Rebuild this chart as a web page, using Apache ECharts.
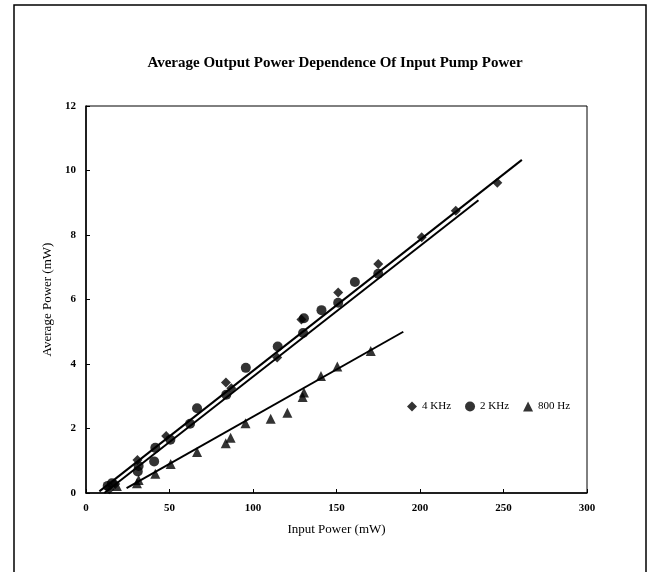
<!DOCTYPE html>
<html>
<head>
<meta charset="utf-8">
<script src="https://cdn.jsdelivr.net/npm/echarts@6/dist/echarts.min.js"></script>
<style>
  html, body { margin: 0; padding: 0; background: #fff; }
  #chart { width: 652px; height: 572px; }
</style>
</head>
<body>
<div id="chart"></div>
<script>
// 数据 (input power mW, average power mW)
var khz4 = [[14, 0.12], [17.5, 0.28], [30.8, 1.02], [48, 1.77], [83.8, 3.43], [87, 3.25],
  [114.5, 4.2], [129, 5.38], [151, 6.22], [175, 7.1], [201, 7.93], [221.4, 8.75], [246.3, 9.62]];
var khz2 = [[13, 0.22], [15.5, 0.3], [31, 0.67], [31.5, 0.84], [40.8, 0.98], [41.5, 1.4],
  [50.5, 1.65], [62.3, 2.15], [66.5, 2.63], [84, 3.05], [95.7, 3.88], [114.8, 4.54],
  [130, 4.96], [130.5, 5.42], [141, 5.67], [151, 5.9], [161, 6.54], [175, 6.8]];
var hz800 = [[18.5, 0.22], [30.5, 0.3], [31.5, 0.4], [41.5, 0.6], [50.7, 0.9], [66.5, 1.27],
  [83.7, 1.54], [86.6, 1.71], [95.5, 2.16], [110.6, 2.3], [120.6, 2.49], [129.7, 2.98],
  [130.5, 3.12], [140.7, 3.63], [150.5, 3.92], [170.5, 4.4]];
// 拟合直线端点
var fit4 = [[8, 0.05], [261, 10.33]];
var fit2 = [[11, 0], [235, 9.08]];
var fit800 = [[24.3, 0.15], [190, 5.0]];
var legendNames = ['4 KHz', '2 KHz', '800 Hz'];

var chart = echarts.init(document.getElementById('chart'));
var serif = '"Liberation Serif", "DejaVu Serif", serif';

function fitLine(data) {
  return {
    type: 'line', data: data, symbol: 'none', silent: true,
    lineStyle: { color: '#000', width: 2 }, z: 1
  };
}

var option = {
  backgroundColor: '#fff',
  animation: false,
  title: {
    text: 'Average Output Power Dependence Of Input Pump Power',
    left: 330, top: 51, textAlign: 'center',
    textStyle: { fontFamily: serif, fontSize: 15, fontWeight: 'bold', color: '#000' }
  },
  legend: {
    data: legendNames,
    left: 402, top: 396,
    itemWidth: 10, itemHeight: 10, itemGap: 14,
    textStyle: { fontFamily: serif, fontSize: 11, color: '#000' }
  },
  grid: {
    left: 86, right: 65, top: 106, bottom: 79,
    show: true, borderColor: '#000', borderWidth: 1
  },
  xAxis: {
    type: 'value', min: 0, max: 300, interval: 50,
    name: 'Input Power (mW)', nameLocation: 'middle', nameGap: 30,
    nameTextStyle: { fontFamily: serif, fontSize: 13, color: '#000' },
    axisLine: { lineStyle: { color: '#000', width: 1.5 } },
    axisTick: { inside: true, length: 4, lineStyle: { color: '#000' } },
    axisLabel: { fontFamily: serif, fontSize: 11, fontWeight: 'bold', color: '#000', margin: 10 },
    splitLine: { show: false }
  },
  yAxis: {
    type: 'value', min: 0, max: 12, interval: 2,
    name: 'Average Power (mW)', nameLocation: 'middle', nameGap: 30,
    nameTextStyle: { fontFamily: serif, fontSize: 13, color: '#000' },
    axisLine: { lineStyle: { color: '#000', width: 1.5 } },
    axisTick: { inside: true, length: 4, lineStyle: { color: '#000' } },
    axisLabel: { fontFamily: serif, fontSize: 11, fontWeight: 'bold', color: '#000', margin: 10 },
    splitLine: { show: false }
  },
  graphic: [{
    type: 'polyline',
    shape: { points: [[14, 572], [14, 5], [646, 5], [646, 572]] },
    style: { stroke: '#000', lineWidth: 1.5, fill: null }
  }],
  series: [
    fitLine(fit4),
    fitLine(fit2),
    fitLine(fit800),
    { name: '4 KHz', type: 'scatter', data: khz4, symbol: 'diamond', symbolSize: 10,
      itemStyle: { color: '#000' }, z: 3 },
    { name: '2 KHz', type: 'scatter', data: khz2, symbol: 'circle', symbolSize: 10,
      itemStyle: { color: '#000' }, z: 3 },
    { name: '800 Hz', type: 'scatter', data: hz800, symbol: 'triangle', symbolSize: 10,
      itemStyle: { color: '#000' }, z: 3 }
  ]
};

chart.setOption(option);
</script>
</body>
</html>
